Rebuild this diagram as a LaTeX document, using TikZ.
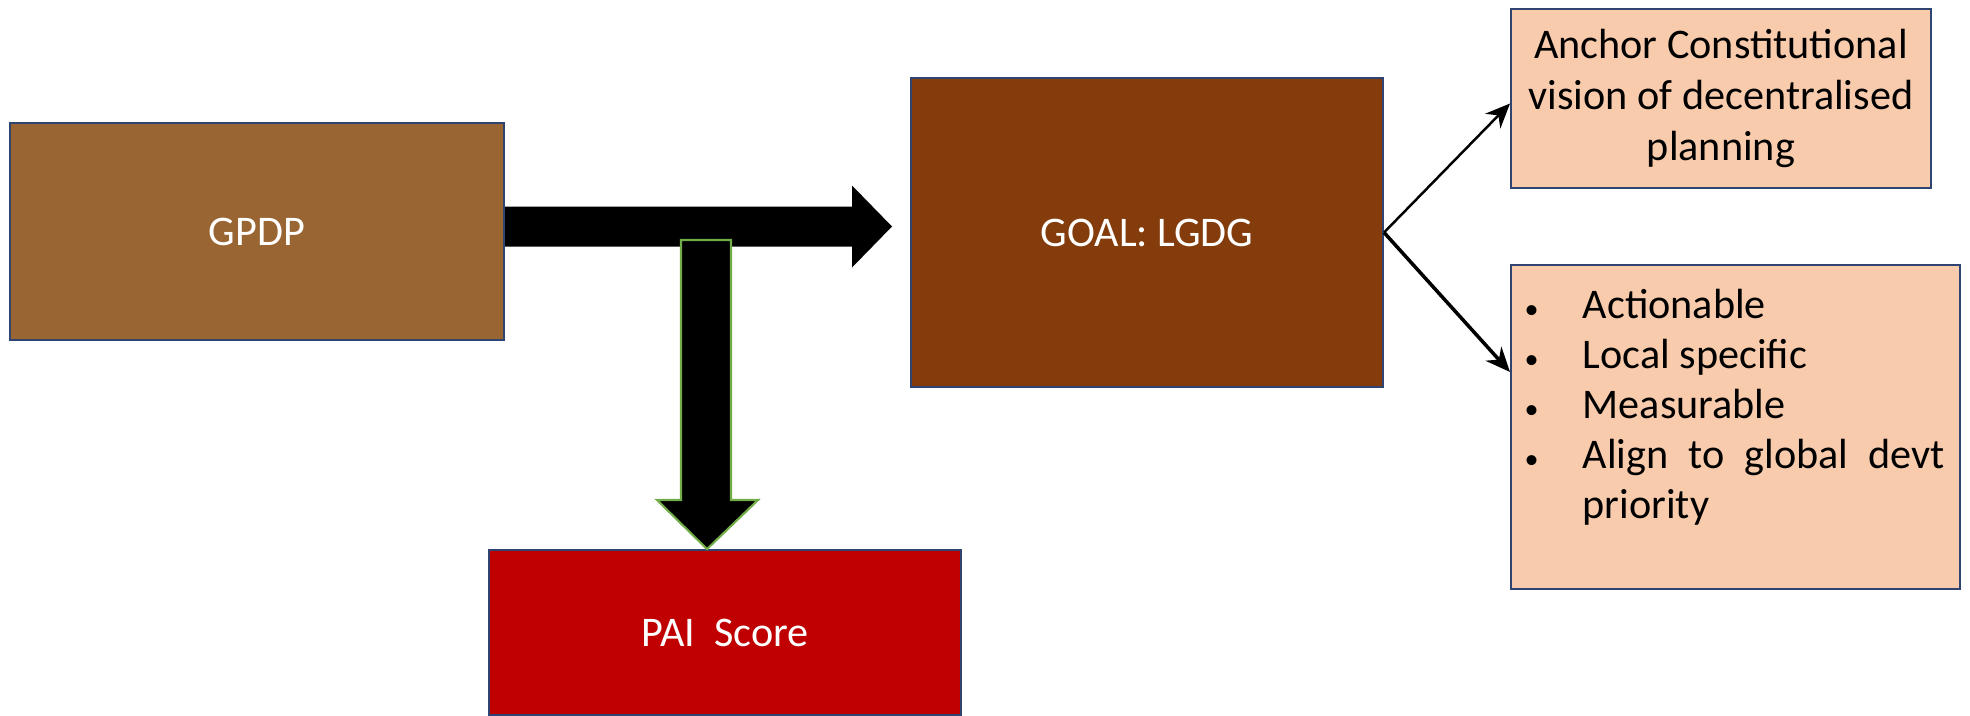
\documentclass[tikz,border=0pt]{standalone}
\usepackage{fontspec}
\setmainfont{Carlito}
\usepackage{enumitem}
\usetikzlibrary{arrows.meta,positioning}
\definecolor{borde}{HTML}{2F4470}
\definecolor{marron}{HTML}{996633}
\definecolor{marronosc}{HTML}{843C0C}
\definecolor{rojo}{HTML}{C00000}
\definecolor{melocoton}{HTML}{F8CBAD}
\definecolor{verde}{HTML}{70AD47}
\begin{document}
\begin{tikzpicture}[x=0.01cm, y=-0.01cm,
  caja/.style={draw=borde, line width=0.5pt, inner sep=0pt, font=\fontsize{12}{14.6}\selectfont},
  oscura/.style={caja, text=white},
  clara/.style={caja, fill=melocoton, align=center},
  flecha/.style={-{Stealth[length=7pt,width=6pt]}}]
\useasboundingbox (0,0) rectangle (1970,715);
% Cajas
\node[oscura, fill=marron, minimum width=4.94cm, minimum height=2.17cm] (gpdp) at (257,231.5) {GPDP};
\node[oscura, fill=marronosc, minimum width=4.72cm, minimum height=3.09cm] (meta) at (1147,232.5) {GOAL: LGDG};
\node[oscura, fill=rojo, minimum width=4.72cm, minimum height=1.65cm] (pai) at (725,632.5) {PAI\ \ Score};
\node[clara, minimum width=4.2cm, minimum height=1.79cm] (ancla) at (1721,98.5)
  {Anchor Constitutional\\vision of decentralised\\planning};
\node[caja, fill=melocoton, minimum width=4.49cm, minimum height=3.24cm] (lista) at (1735.5,427) {};
% Puntos de la lista
\node[anchor=north west, text width=4.19cm, inner sep=0pt, align=justify,
  font=\fontsize{12}{14.2}\selectfont] (puntos) at (1525,268)
  {\hyphenpenalty=10000 \tolerance=10000
   \begin{itemize}[leftmargin=0.57cm, labelsep=0.44cm, itemsep=0pt, topsep=0pt, parsep=0pt, partopsep=0pt,
     label={\footnotesize\textbullet}]
   \item Actionable
   \item Local specific
   \item Measurable
   \item Align to global devt priority
   \end{itemize}};
% Flechas gruesas
\fill (gpdp.east |- 0,206.5) -- (852,206.5) -- (852,185.5) -- (892,226.5) -- (852,267.5)
  -- (852,246.5) -- (gpdp.east |- 0,246.5) -- cycle;
\filldraw[fill=black, draw=verde, line width=0.6pt] (681,240) -- (731,240) -- (731,500) -- (758,500)
  -- (pai.north -| 707,0) -- (657,500) -- (681,500) -- cycle;
% Flechas finas
\draw[flecha, line width=0.7pt] (meta.east) -- ([yshift=-0.05cm]ancla.west);
\draw[flecha, line width=1pt] (meta.east) -- ([yshift=0.55cm]lista.west);
\end{tikzpicture}
\end{document}
